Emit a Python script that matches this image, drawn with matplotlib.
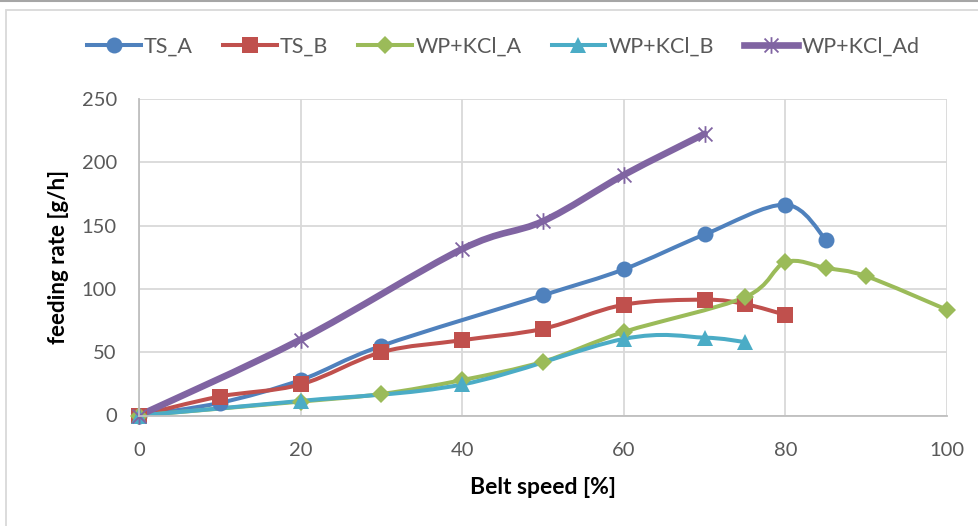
import numpy as np
import matplotlib
matplotlib.use("Agg")
import matplotlib.pyplot as plt
from matplotlib.path import Path
from matplotlib.patches import PathPatch, Rectangle
from matplotlib.lines import Line2D

plt.rcParams['font.family'] = ['Lato', 'DejaVu Sans']

# Belt speed [%] and feeding rate [g/h] per material
ts_a_x = [0, 10, 20, 30, 50, 60, 70, 80, 85]
ts_a_y = [0, 10, 28, 55, 95, 115.5, 143, 166.5, 139]

ts_b_x = [0, 10, 20, 30, 40, 50, 60, 70, 75, 80]
ts_b_y = [0, 15, 24.5, 50, 59.5, 68.5, 87.5, 91.5, 88, 79.5]

wpa_x = [0, 20, 30, 40, 50, 60, 75, 80, 85, 90, 100]
wpa_y = [0, 11, 17, 28, 42.5, 66, 93.5, 121, 116.5, 110, 83.5]

wpb_x = [0, 20, 40, 60, 70, 75]
wpb_y = [0, 11.5, 24.5, 60.5, 61.5, 58]

wpad_x = [0, 20, 40, 50, 60, 70]
wpad_y = [0, 60, 131.5, 153.5, 190, 222.5]

labels = ["TS_A", "TS_B", "WP+KCl_A", "WP+KCl_B", "WP+KCl_Ad"]
x_ticks = [0, 20, 40, 60, 80, 100]
y_ticks = [0, 50, 100, 150, 200, 250]

# asterisk-style marker: an x with a vertical stroke
star = Path([(-1, -1), (1, 1), (-1, 1), (1, -1), (0, -1.2), (0, 1.2)],
            [Path.MOVETO, Path.LINETO, Path.MOVETO, Path.LINETO,
             Path.MOVETO, Path.LINETO])

styles = [
    dict(color="#4F81BD", marker="o", ms=11.5, lw=2.9, mew=0),
    dict(color="#C0504D", marker="s", ms=11, lw=2.9, mew=0),
    dict(color="#9BBB59", marker="D", ms=9, lw=2.9, mew=0),
    dict(color="#4BACC6", marker="^", ms=12, lw=2.9, mew=0),
    dict(color="#8064A2", marker=star, ms=12, lw=4.8, mew=1.3),
]

series = [(ts_a_x, ts_a_y), (ts_b_x, ts_b_y), (wpa_x, wpa_y),
          (wpb_x, wpb_y), (wpad_x, wpad_y)]


def smooth_path(xs, ys):
    """Cardinal (Catmull-Rom) Bezier path through the points."""
    p = np.column_stack([xs, ys]).astype(float)
    n = len(p)
    verts = [p[0]]
    codes = [Path.MOVETO]
    for i in range(n - 1):
        p0 = p[i - 1] if i > 0 else p[i]
        p1 = p[i]
        p2 = p[i + 1]
        p3 = p[i + 2] if i + 2 < n else p[i + 1]
        c1 = p1 + (p2 - p0) / 6.0
        c2 = p2 - (p3 - p1) / 6.0
        verts += [c1, c2, p2]
        codes += [Path.CURVE4] * 3
    return Path(verts, codes)


fig = plt.figure(figsize=(9.79, 5.26), dpi=100)
# chart frame
fig.add_artist(Line2D([0, 1], [1 - 0.5 / 526, 1 - 0.5 / 526], color="#a6a6a6", lw=1.5,
                      transform=fig.transFigure))
fig.add_artist(Rectangle((6 / 979, -0.1), 1.2, 1 - 10 / 526 + 0.1, fill=False,
                         ec="#d9d9d9", lw=1.3, transform=fig.transFigure))

ax = fig.add_axes([139 / 979, 1 - 415.5 / 526, (947 - 139) / 979, (415.5 - 99) / 526])
ax.set_xlim(0, 100)
ax.set_ylim(0, 250)
ax.set_xticks(x_ticks)
ax.set_yticks(y_ticks)
ax.grid(True, color="#d9d9d9", lw=1.3)
ax.set_axisbelow(True)
for s in ["top", "right"]:
    ax.spines[s].set_visible(False)
for s in ["left", "bottom"]:
    ax.spines[s].set_color("#bfbfbf")
    ax.spines[s].set_linewidth(1.3)
ax.tick_params(length=0, labelsize=14.5, labelcolor="#595959")
ax.tick_params(axis="y", pad=16)
ax.tick_params(axis="x", pad=19)

handles = []
for (xs, ys), st, lab in zip(series, styles, labels):
    patch = PathPatch(smooth_path(xs, ys), fill=False, ec=st["color"],
                      lw=st["lw"], capstyle="round", joinstyle="round")
    ax.add_patch(patch)
    ax.plot(xs, ys, ls="none", marker=st["marker"], ms=st["ms"],
            mfc=st["color"], mec=st["color"], mew=st["mew"], clip_on=False,
            label=lab)
    handles.append(Line2D([], [], color=st["color"], lw=st["lw"],
                          marker=st["marker"], ms=st["ms"], mfc=st["color"],
                          mec=st["color"], mew=st["mew"]))

ax.set_xlabel("Belt speed [%]", fontsize=16.5, fontweight="bold", labelpad=13)
ax.set_ylabel("feeding rate [g/h]", fontsize=16, fontweight="bold", labelpad=9)

fig.legend(handles, labels, loc="center", bbox_to_anchor=(503 / 979, 1 - 47 / 526),
           ncol=5, frameon=False, fontsize=15.5, handlelength=2.5,
           handletextpad=0.15, columnspacing=1.4, labelcolor="#595959")

fig.savefig("out.png", dpi=100)
